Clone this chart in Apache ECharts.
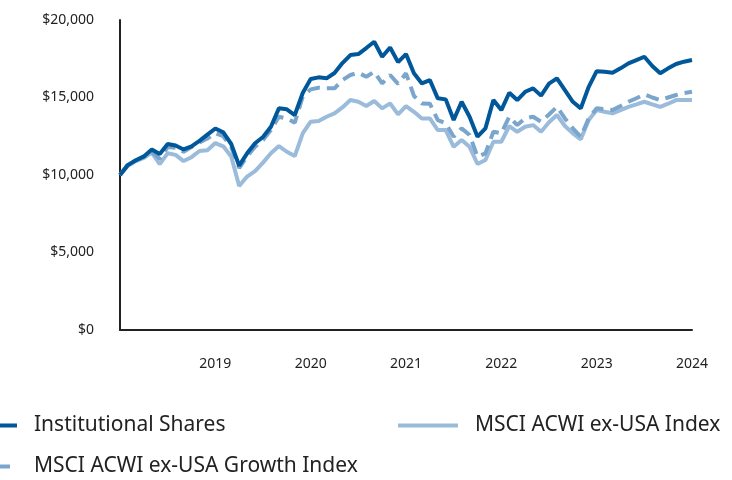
<!DOCTYPE html>
<html>
<head>
<meta charset="utf-8">
<script src="https://cdn.jsdelivr.net/npm/echarts@6/dist/echarts.min.js"></script>
<style>
html,body{margin:0;padding:0;background:#fff;}
#chart{width:732px;height:480px;}
</style>
</head>
<body>
<div id="chart"></div>
<script>
var months = [
'2018-01','2018-02','2018-03','2018-04','2018-05','2018-06','2018-07','2018-08','2018-09','2018-10','2018-11','2018-12',
'2019-01','2019-02','2019-03','2019-04','2019-05','2019-06','2019-07','2019-08','2019-09','2019-10','2019-11','2019-12',
'2020-01','2020-02','2020-03','2020-04','2020-05','2020-06','2020-07','2020-08','2020-09','2020-10','2020-11','2020-12',
'2021-01','2021-02','2021-03','2021-04','2021-05','2021-06','2021-07','2021-08','2021-09','2021-10','2021-11','2021-12',
'2022-01','2022-02','2022-03','2022-04','2022-05','2022-06','2022-07','2022-08','2022-09','2022-10','2022-11','2022-12',
'2023-01','2023-02','2023-03','2023-04','2023-05','2023-06','2023-07','2023-08','2023-09','2023-10','2023-11','2023-12',
'2024-01'];

var yearLabels = ['2019','2020','2021','2022','2023','2024'];
var yTicks = [0, 5000, 10000, 15000, 20000];

var institutional = [
10000,10650,10950,11200,11650,11350,12000,11900,11650,11850,12200,12600,
13000,12750,12000,10600,11400,12050,12450,13110,14300,14235,13870,15290,
16190,16300,16235,16580,17220,17740,17800,18190,18600,17630,18230,17280,
17800,16560,15910,16125,14945,14880,13545,14725,13760,12470,13010,14835,
14190,15305,14835,15370,15590,15120,15900,16235,15480,14725,14300,15690,
16700,16660,16600,16880,17200,17415,17630,17030,16560,16880,17160,17310,
17415];

var acwiGrowth = [
10000,10700,10950,11150,11500,11050,11800,11750,11500,11800,12100,12350,
12700,12500,11800,10450,11200,11830,12255,12900,13760,13650,13370,15050,
15525,15630,15590,15590,16125,16450,16600,16340,16660,15910,16450,15880,
16560,15100,14620,14600,13545,13330,12470,13010,12580,11180,11400,12790,
12690,13760,13220,13650,13760,13440,13900,14400,13650,13010,12470,13650,
14300,14250,14190,14450,14725,14950,15200,15000,14835,15000,15160,15280,
15370];

var acwi = [
10000,10600,10900,11100,11450,10700,11400,11300,10900,11150,11550,11600,
12060,11850,11200,9290,9900,10250,10800,11400,11870,11500,11220,12690,
13440,13480,13760,13980,14360,14835,14725,14450,14770,14300,14620,13910,
14450,14080,13650,13650,12900,12900,11820,12255,11820,10710,10965,12145,
12145,13160,12790,13110,13220,12790,13400,13870,13160,12690,12300,13545,
14190,14080,13980,14190,14400,14560,14725,14560,14400,14600,14835,14835,
14835];

var names = ['Institutional Shares','MSCI ACWI ex-USA Index','MSCI ACWI ex-USA Growth Index'];
var colors = ['#00579a','#9bbbda','#7aa5cd'];
var FONT = '"Noto Sans", "Open Sans", sans-serif';

var chart = echarts.init(document.getElementById('chart'), null, {renderer:'canvas'});

function legendAt(name, left, top) {
  return {
    data: [name], left: left, top: top, orient: 'horizontal', padding: 0,
    itemWidth: 60, itemHeight: 14, selectedMode: false,
    lineStyle: {width: 4},
    itemStyle: {opacity: 0},
    textStyle: {fontSize: 21, color: '#222', fontFamily: FONT, padding: [0,0,0,12]}
  };
}

chart.setOption({
  animation: false,
  backgroundColor: '#fff',
  grid: {left: 120, right: 40, top: 20, bottom: 150, containLabel: false},
  xAxis: {
    type: 'category', data: months, boundaryGap: false,
    axisLine: {show: true, lineStyle: {color: '#222', width: 2}},
    axisTick: {show: false},
    splitLine: {show: false},
    axisLabel: {
      margin: 27, fontSize: 14, color: '#222', fontFamily: FONT,
      interval: function (i) { return i > 0 && i % 12 === 0; },
      formatter: function (v, i) { return yearLabels[i / 12 - 1]; }
    }
  },
  yAxis: {
    type: 'value', min: yTicks[0], max: yTicks[yTicks.length - 1], interval: 5000,
    axisLine: {show: true, lineStyle: {color: '#222', width: 2}},
    axisTick: {show: false},
    splitLine: {show: false},
    axisLabel: {
      margin: 26, fontSize: 14, color: '#222', fontFamily: FONT, padding: [3, 0, 0, 0],
      formatter: function (v) { return '$' + v.toLocaleString('en-US'); }
    }
  },
  legend: [
    legendAt(names[0], -45, 415),
    legendAt(names[1], 396, 415),
    legendAt(names[2], -45, 456)
  ],
  series: [
    {name: names[1], type: 'line', data: acwi, symbol: 'none', z: 2,
     lineStyle: {color: colors[1], width: 4}, itemStyle: {color: colors[1]}},
    {name: names[2], type: 'line', data: acwiGrowth, symbol: 'none', z: 3,
     lineStyle: {color: colors[2], width: 4, type: [13, 7]}, itemStyle: {color: colors[2]}},
    {name: names[0], type: 'line', data: institutional, symbol: 'none', z: 4,
     lineStyle: {color: colors[0], width: 4}, itemStyle: {color: colors[0]}}
  ]
});
</script>
</body>
</html>
